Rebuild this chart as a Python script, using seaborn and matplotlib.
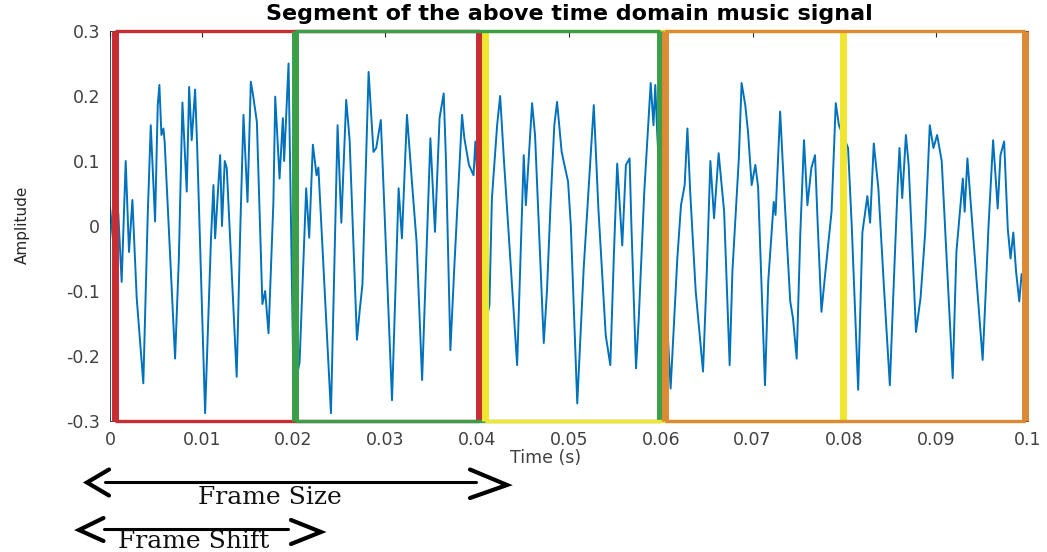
import numpy as np
import pandas as pd
import matplotlib
matplotlib.use("Agg")
import matplotlib.pyplot as plt
import seaborn as sns
from matplotlib.lines import Line2D

# ---------------- data ----------------
time_ms = [0.0, 0.5, 0.9, 1.27, 1.71, 2.07, 2.44, 2.91, 3.63, 4.11, 4.44, 4.91, 5.2, 5.38,
           5.6, 5.82, 5.95, 7.09, 7.5, 7.89, 8.36, 8.62, 8.9, 9.27, 9.5, 10.36, 11.0, 11.27,
           11.45, 12.0, 12.2, 12.5, 12.72, 13.8, 14.2, 14.54, 14.98, 15.34, 15.6, 16.0, 16.6,
           16.9, 17.27, 17.8, 18.0, 18.47, 18.83, 18.97, 19.45, 20.0, 20.65, 21.37, 21.7, 22.1,
           22.5, 22.7, 24.07, 24.79, 25.2, 25.73, 26.1, 26.9, 27.2, 27.5, 28.17, 28.7, 29.0,
           29.5, 29.7, 30.72, 31.44, 31.8, 32.35, 32.9, 33.4, 34.0, 34.9, 35.4, 35.9, 36.35,
           36.6, 37.08, 37.5, 38.35, 38.6, 39.1, 39.6, 39.8, 40.9, 41.33, 41.6, 42.17, 42.5,
           42.9, 44.35, 45.07, 45.3, 45.98, 46.3, 47.25, 47.6, 48.0, 48.4, 48.7, 49.2, 49.9,
           50.2, 50.9, 51.6, 52.0, 52.7, 53.2, 54.0, 54.5, 54.9, 55.25, 55.8, 56.2, 56.6, 56.8,
           57.3, 57.6, 58.2, 58.9, 59.2, 59.4, 59.6, 61.07, 61.8, 62.2, 62.6, 62.9, 63.2, 63.8,
           64.6, 65.0, 65.4, 65.8, 66.3, 66.9, 67.5, 67.8, 68.5, 68.8, 69.2, 69.5, 69.9, 70.3,
           70.6, 71.35, 71.7, 72.3, 72.5, 73.0, 73.5, 74.1, 74.4, 74.8, 75.2, 75.6, 75.97, 76.4,
           76.8, 77.1, 77.5, 77.9, 78.6, 79.06, 79.4, 80.4, 80.8, 81.5, 81.96, 82.5, 82.8, 83.2,
           83.7, 84.3, 84.95, 85.3, 85.8, 86.0, 86.3, 86.7, 87.0, 87.8, 88.3, 88.8, 89.3, 89.7,
           90.1, 90.6, 91.8, 92.2, 92.9, 93.1, 93.4, 94.0, 95.06, 95.4, 95.7, 96.2, 96.7, 97.0,
           97.4, 97.8, 98.1, 98.4, 98.7, 99.05, 99.3, 99.6]
amplitude = [0.03, -0.05, 0.02, -0.086, 0.10, -0.04, 0.04, -0.111, -0.242, 0.017, 0.155, 0.007, 0.186, 0.217,
             0.14, 0.15, 0.13, -0.204, -0.05, 0.19, 0.053, 0.214, 0.132, 0.21, 0.12, -0.288, -0.02, 0.063,
             -0.019, 0.109, 0.0, 0.1, 0.089, -0.232, 0.0, 0.171, 0.037, 0.222, 0.2, 0.16, -0.12,
             -0.1, -0.165, 0.037, 0.199, 0.073, 0.166, 0.1, 0.25, -0.255, -0.21, 0.058, -0.018, 0.125,
             0.078, 0.09, -0.288, 0.155, 0.005, 0.194, 0.133, -0.175, -0.13, -0.09, 0.237, 0.114, 0.12,
             0.163, 0.094, -0.268, 0.058, -0.019, 0.171, 0.066, -0.025, -0.237, 0.135, -0.009, 0.166, 0.204,
             0.1, -0.191, -0.065, 0.171, 0.135, 0.094, 0.078, 0.13, -0.15, -0.122, 0.042, 0.155, 0.2,
             0.104, -0.214, 0.109, 0.032, 0.189, 0.14, -0.18, -0.1, 0.037, 0.155, 0.191, 0.114, 0.068,
             0.0, -0.273, -0.065, 0.027, 0.186, 0.027, -0.168, -0.214, -0.04, 0.096, -0.03, 0.094, 0.104, 0.0,
             -0.219, -0.142, 0.053, 0.22, 0.155, 0.217, 0.145, -0.25, -0.05, 0.032, 0.063, 0.15, 0.053, -0.1,
             -0.224, -0.075, 0.1, 0.012, 0.112, 0.022, -0.214, -0.07, 0.104, 0.22, 0.186, 0.145, 0.063, 0.094,
             0.06, -0.245, -0.086, 0.037, 0.017, 0.176, 0.037, -0.116, -0.142, -0.204, -0.01, 0.132, 0.032, 0.089,
             0.109, 0.0, -0.132, -0.075, 0.022, 0.189, 0.155, 0.12, 0.0, -0.252, -0.01, 0.046, 0.005, 0.127,
             0.058, -0.092, -0.245, -0.116, 0.063, 0.12, 0.043, 0.14, 0.094, -0.163, -0.11, -0.01, 0.155, 0.12,
             0.14, 0.1, -0.234, -0.04, 0.073, 0.022, 0.104, -0.01, -0.206, -0.1, 0.0, 0.132, 0.027, 0.109,
             0.13, -0.005, -0.05, -0.01, -0.07, -0.116, -0.074, -0.1]

frame_start = [0.0005, 0.0202, 0.0408, 0.0605]
frame_end = [0.0402, 0.0599, 0.0798, 0.0997]
frame_color = ['#C62E33', '#3A9F48', '#F0E62E', '#DC8A34']
frame_top_layer = [3, 5, 4, 6]
frame_bottom_layer = [3, 4, 5, 6]

x_ticks = [0, 0.01, 0.02, 0.03, 0.04, 0.05, 0.06, 0.07, 0.08, 0.09, 0.1]
x_tick_labels = ['0', '0.01', '0.02', '0.03', '0.04', '0.05', '0.06', '0.07', '0.08', '0.09', '0.1']
y_ticks = [-0.3, -0.2, -0.1, 0, 0.1, 0.2, 0.3]
y_tick_labels = ['-0.3', '-0.2', '-0.1', '0', '0.1', '0.2', '0.3']

title_text = 'Segment of the above time domain music signal'
x_label = 'Time (s)'
y_label = 'Amplitude'

# ---------------- figure ----------------
sns.set_theme(style='white')
plt.rcParams['font.family'] = ['DejaVu Sans']

W, H = 1047, 552
fig = plt.figure(figsize=(W / 100, H / 100), dpi=100)
fig.patch.set_facecolor('white')
ax = fig.add_axes([110 / W, 131 / H, 918 / W, 390 / H])

df = pd.DataFrame({'t': np.array(time_ms) / 1000.0, 'amp': amplitude})
sns.lineplot(data=df, x='t', y='amp', ax=ax, color='#0072BD', lw=1.4,
             estimator=None, sort=False, zorder=2)

ax.set_xlim(0, 0.1)
ax.set_ylim(-0.3, 0.3)
ax.set_xticks(x_ticks)
ax.set_xticklabels(x_tick_labels)
ax.set_yticks(y_ticks)
ax.set_yticklabels(y_tick_labels)
ax.tick_params(direction='in', length=4, width=0.8, color='#262626', labelcolor='#404040',
               labelsize=12.5, pad=7, top=True, right=True)
for sp in ax.spines.values():
    sp.set_visible(True)
    sp.set_color('#262626')
    sp.set_linewidth(0.6)

ax.set_title(title_text, fontsize=16, fontweight='bold', color='black', pad=8)
ax.set_xlabel(x_label, fontsize=12.5, color='#404040')
ax.set_ylabel(y_label, fontsize=11, color='#262626')
ax.xaxis.set_label_coords(0.475, -0.072)
ax.yaxis.set_label_coords(-0.087, 0.503)

# frames
for s, e, c, zt, zb in zip(frame_start, frame_end, frame_color, frame_top_layer, frame_bottom_layer):
    ax.vlines([s, e], -0.3, 0.3, colors=c, lw=5, zorder=zt, clip_on=False)
    ax.hlines([0.3], s, e, colors=c, lw=2.4, zorder=zt, clip_on=False)
    ax.hlines([-0.3], s, e, colors=c, lw=2.4, zorder=zb, clip_on=False)

# ---------------- annotations (figure pixel positions) ----------------
def P(xs, ys):
    return [x / W for x in xs], [1 - y / H for y in ys]

def draw(xs, ys, lw):
    fx, fy = P(xs, ys)
    fig.add_artist(Line2D(fx, fy, transform=fig.transFigure, color='black', lw=lw,
                          solid_capstyle='round', solid_joinstyle='miter'))

# Frame Size
draw([105, 476], [481.5, 481.5], 2.2)
draw([109, 87, 109], [469.5, 482.5, 495.5], 3.0)
draw([470, 507, 470], [469.5, 485, 498], 3.0)
fig.text(270 / W, 1 - 498 / H, 'Frame Size', family='DejaVu Serif', fontsize=18,
         ha='center', va='center', color='#111111')

# Frame Shift
draw([103.5, 288], [529, 529], 2.2)
draw([103.5, 79, 103.5], [518, 530, 541], 3.0)
draw([291, 321, 291], [520, 532, 544], 3.0)
fig.text(194 / W, 1 - 542 / H, 'Frame Shift', family='DejaVu Serif', fontsize=18,
         ha='center', va='center', color='#111111')

fig.savefig('out.png', dpi=100, facecolor='white')
